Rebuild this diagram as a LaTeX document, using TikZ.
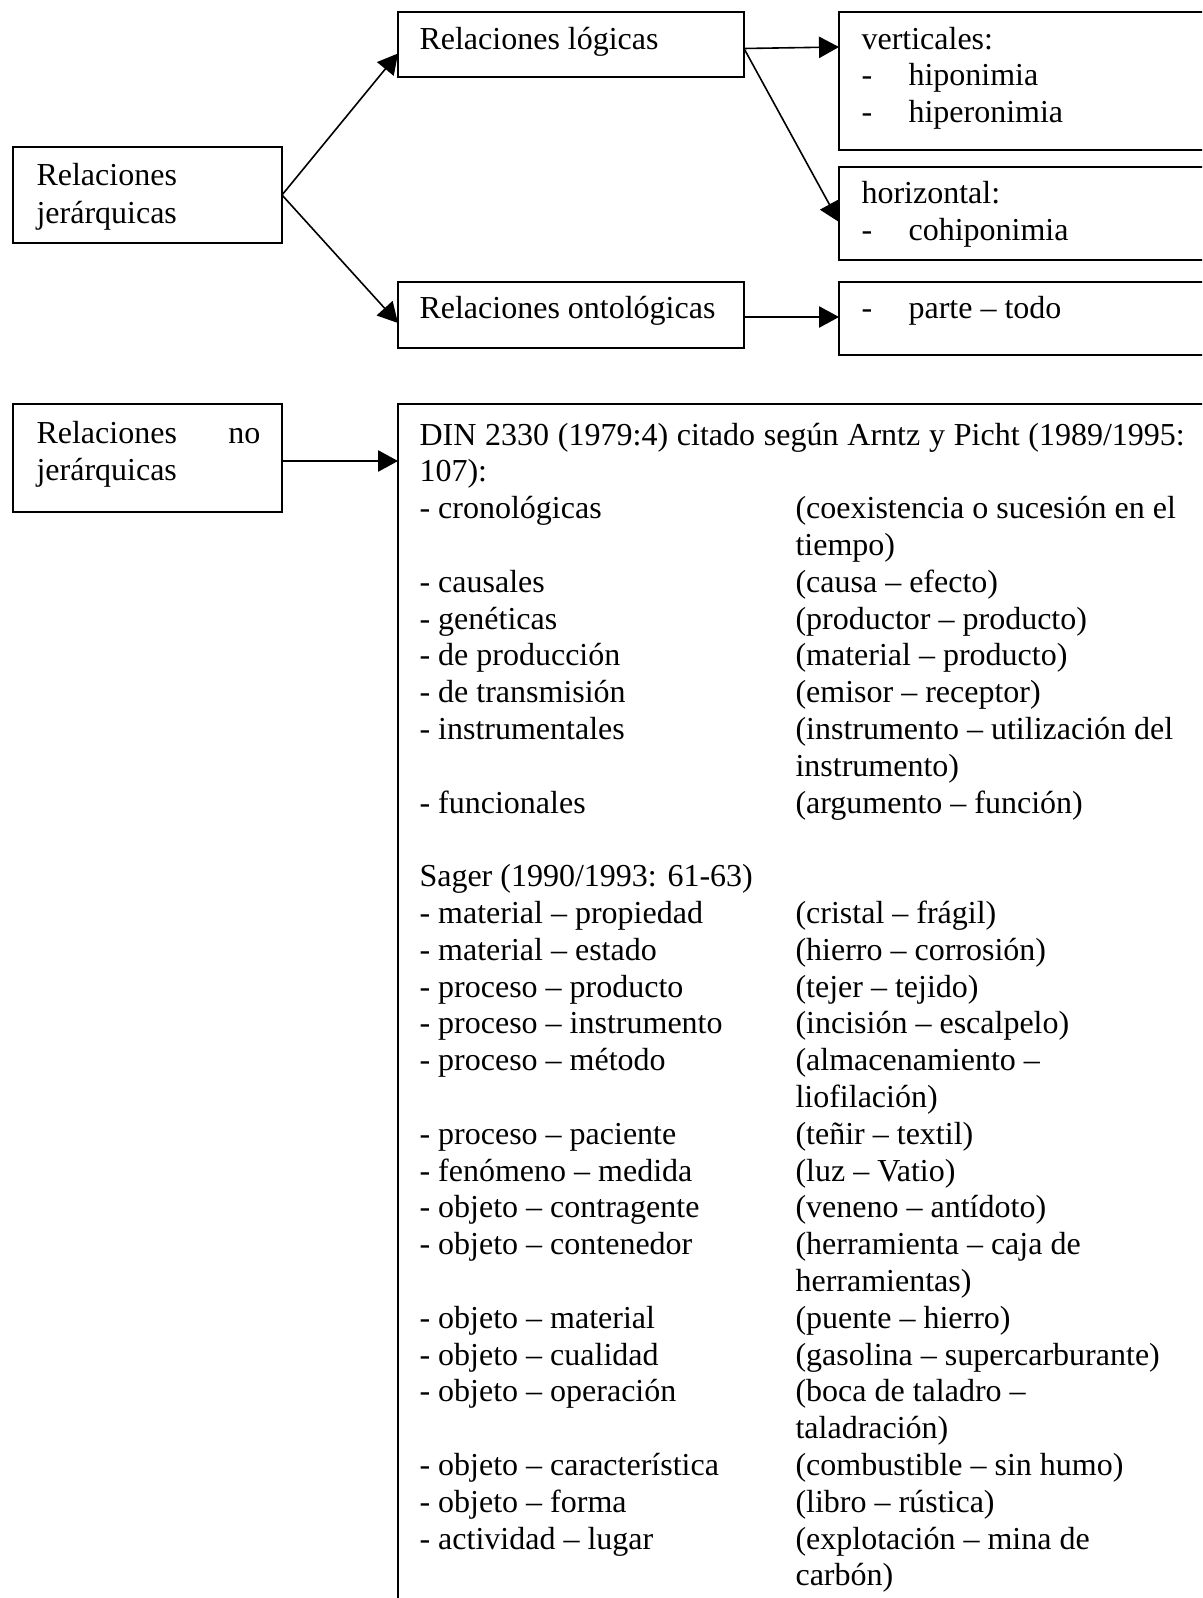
\documentclass[tikz,border=0pt]{standalone}
\usepackage{fontspec}
\setmainfont{Liberation Serif}
\usetikzlibrary{arrows.meta,calc}
\begin{document}
\begin{tikzpicture}[x=0.375pt,y=-0.375pt,
  box/.style={draw, line width=0.75pt, rectangle, inner sep=0pt, outer sep=0pt, anchor=north west},
  pbox/.style 2 args={minimum width=#1*0.375pt, minimum height=#2*0.375pt},
  txt/.style={anchor=base west, inner sep=0pt, font=\fontsize{12}{13.8}\selectfont},
  arr/.style={line width=0.6pt, -{Triangle[length=7.5pt,width=8pt]}}]
\useasboundingbox (0,0) rectangle (1202,1598);
\clip (0,0) rectangle (1202,1598);

% boxes
\node[box, pbox={269}{96}]   (A) at (13,147) {};
\node[box, pbox={346}{65}]   (B) at (398,12) {};
\node[box, pbox={380}{138}]  (C) at (839,12) {};
\node[box, pbox={380}{93}]   (D) at (839,167) {};
\node[box, pbox={346}{66}]   (E) at (398,282) {};
\node[box, pbox={380}{73}]   (F) at (839,282) {};
\node[box, pbox={269}{108}]  (G) at (13,404) {};
\node[box, pbox={820}{1230}] (H) at (398,404) {};

% connectors
\draw[arr] (A.east) -- ($(B.west)+(0,9)$);
\draw[arr] (A.east) -- ($(E.west)+(0,8)$);
\coordinate (bs) at ($(B.east)+(0,4)$);
\draw[arr] (bs) -- ($(C.north west)+(0,35)$);
\draw[arr] (bs) -- ($(D.north west)+(0,55)$);
\draw[arr] ($(E.east)+(0,2)$) -- ($(E.east -| F.west)+(0,2)$);
\draw[arr] ($(G.east)+(0,3)$) -- ($(G.east -| H.west)+(0,3)$);

% box texts
\node[txt] (a1) at (36,186) {Relaciones};
\node[txt] (a2) at (36,223) {jerárquicas};
\node[txt] (b1) at (419,50) {Relaciones lógicas};
\node[txt] (e1) at (419,318) {Relaciones ontológicas};
\node[txt] (c1) at (861,50) {verticales:};
\node[txt] (c2) at (861,86) {-};
\node[txt] (c3) at (908,86) {hiponimia};
\node[txt] (c4) at (861,122) {-};
\node[txt] (c5) at (908,122) {hiperonimia};
\node[txt] (d1) at (861,203) {horizontal:};
\node[txt] (d2) at (861,240) {-};
\node[txt] (d3) at (908,240) {cohiponimia};
\node[txt] (f1) at (861,318) {-};
\node[txt] (f2) at (908,318) {parte – todo};
\node[txt] (g1) at (36,443) {Relaciones};
\node[txt, anchor=base east] (g2) at (261,443) {no};
\node[txt] (g3) at (36,480) {jerárquicas};

% list of non-hierarchical relations: left column
\foreach \i/\t in {
  0/{\makebox[287pt][s]{DIN 2330 (1979:4) citado según Arntz y Picht (1989/1995:}},
  1/{107):},
  2/{- cronológicas},
  4/{- causales},
  5/{- genéticas},
  6/{- de producción},
  7/{- de transmisión},
  8/{- instrumentales},
  10/{- funcionales},
  12/{Sager (1990/1993: 61-63)},
  13/{- material – propiedad},
  14/{- material – estado},
  15/{- proceso – producto},
  16/{- proceso – instrumento},
  17/{- proceso – método},
  19/{- proceso – paciente},
  20/{- fenómeno – medida},
  21/{- objeto – contragente},
  22/{- objeto – contenedor},
  24/{- objeto – material},
  25/{- objeto – cualidad},
  26/{- objeto – operación},
  28/{- objeto – característica},
  29/{- objeto – forma},
  30/{- actividad – lugar}}
  \node[txt] (hl\i) at (419,{445+\i*36.8}) {\t};

% right column
\foreach \i/\t in {
  2/{(coexistencia o sucesión en el},
  3/{tiempo)},
  4/{(causa – efecto)},
  5/{(productor – producto)},
  6/{(material – producto)},
  7/{(emisor – receptor)},
  8/{(instrumento – utilización del},
  9/{instrumento)},
  10/{(argumento – función)},
  13/{(cristal – frágil)},
  14/{(hierro – corrosión)},
  15/{(tejer – tejido)},
  16/{(incisión – escalpelo)},
  17/{(almacenamiento –},
  18/{liofilación)},
  19/{(teñir – textil)},
  20/{(luz – Vatio)},
  21/{(veneno – antídoto)},
  22/{(herramienta – caja de},
  23/{herramientas)},
  24/{(puente – hierro)},
  25/{(gasolina – supercarburante)},
  26/{(boca de taladro –},
  27/{taladración)},
  28/{(combustible – sin humo)},
  29/{(libro – rústica)},
  30/{(explotación – mina de},
  31/{carbón)}}
  \node[txt] (hr\i) at (795,{445+\i*36.8}) {\t};
\end{tikzpicture}
\end{document}
